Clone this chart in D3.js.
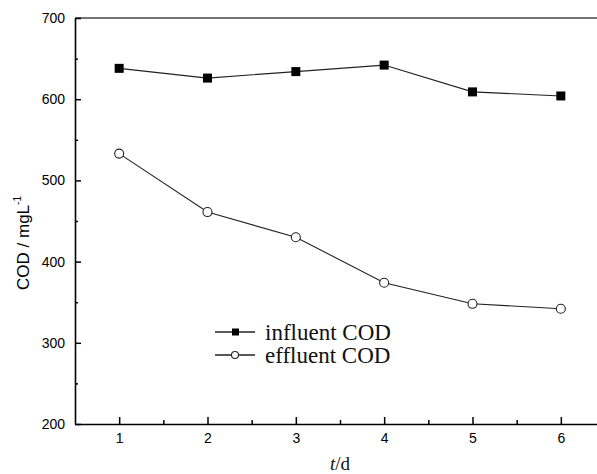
<!DOCTYPE html>
<html>
<head>
<meta charset="utf-8">
<script src="https://cdn.jsdelivr.net/npm/d3@7"></script>
<style>
  body { margin: 0; background: #fff; }
</style>
</head>
<body>
<svg id="svg1" width="597" height="474"></svg>
<script>
// data
var days = [1, 2, 3, 4, 5, 6];
var influent = [638, 626, 634, 642, 609, 604];
var effluent = [533, 461, 430, 374, 348, 342];
var yTicks = [200, 300, 400, 500, 600, 700];
var yMinor = [250, 350, 450, 550, 650];
var xMinor = [1.5, 2.5, 3.5, 4.5, 5.5];

function drawChart() {
  var svg = d3.select("#svg1");
  var left = 75, right = 605, topY = 18, bottom = 424;

  var x = d3.scaleLinear().domain([0.5, 6.5]).range([left, right]);
  var y = d3.scaleLinear().domain([200, 700]).range([bottom, topY]);

  // top frame line (right edge is cut off in the original)
  svg.append("line").attr("x1", left).attr("x2", right).attr("y1", topY).attr("y2", topY)
    .attr("stroke", "#444").attr("stroke-width", 1.5);

  // x axis, ticks pointing inward
  var gx = svg.append("g").attr("transform", "translate(0," + bottom + ")")
    .call(d3.axisBottom(x).tickValues(days).tickFormat(d3.format("d")).tickSize(-7).tickPadding(9).tickSizeOuter(0));
  gx.select(".domain").attr("stroke", "#000").attr("stroke-width", 1.6);
  gx.selectAll(".tick line").attr("stroke-width", 1.5);
  gx.selectAll(".tick text")
    .attr("font-family", "Liberation Sans, Arial, sans-serif").attr("font-size", "14px").attr("fill", "#000");
  svg.append("g").attr("transform", "translate(0," + bottom + ")")
    .call(d3.axisBottom(x).tickValues(xMinor).tickSize(-4).tickFormat("").tickSizeOuter(0))
    .call(function(g) { g.select(".domain").remove(); })
    .selectAll(".tick line").attr("stroke-width", 1.5);

  // y axis
  var gy = svg.append("g").attr("transform", "translate(" + left + ",0)")
    .call(d3.axisLeft(y).tickValues(yTicks).tickFormat(d3.format("d")).tickSize(-6).tickPadding(10).tickSizeOuter(0));
  gy.select(".domain").attr("stroke", "#000").attr("stroke-width", 1.6);
  gy.selectAll(".tick line").attr("stroke-width", 1.5);
  gy.selectAll(".tick text")
    .attr("font-family", "Liberation Sans, Arial, sans-serif").attr("font-size", "14px").attr("fill", "#000");
  svg.append("g").attr("transform", "translate(" + left + ",0)")
    .call(d3.axisLeft(y).tickValues(yMinor).tickSize(-3).tickFormat("").tickSizeOuter(0))
    .call(function(g) { g.select(".domain").remove(); })
    .selectAll(".tick line").attr("stroke-width", 1.5);

  // axis titles
  svg.append("text")
    .attr("transform", "translate(29,243) rotate(-90)")
    .attr("text-anchor", "middle")
    .attr("font-family", "Liberation Sans, Arial, sans-serif")
    .attr("font-size", "17px")
    .attr("fill", "#000")
    .html("COD / mgL<tspan font-size='10px' dy='-8'>-1</tspan>");

  svg.append("text")
    .attr("x", 340).attr("y", 470)
    .attr("text-anchor", "middle")
    .attr("font-family", "Liberation Serif, Times New Roman, serif")
    .attr("font-size", "19px")
    .attr("fill", "#111")
    .html("<tspan font-style='italic'>t</tspan>/d");

  var line = d3.line()
    .x(function(d, i) { return x(days[i]); })
    .y(function(d) { return y(d); });

  svg.append("path").datum(influent).attr("d", line)
    .attr("fill", "none").attr("stroke", "#222").attr("stroke-width", 1.1);
  svg.append("path").datum(effluent).attr("d", line)
    .attr("fill", "none").attr("stroke", "#222").attr("stroke-width", 1.1);

  svg.selectAll(".sq").data(influent).enter().append("rect")
    .attr("class", "sq")
    .attr("x", function(d, i) { return x(days[i]) - 4.5; })
    .attr("y", function(d) { return y(d) - 4.5; })
    .attr("width", 9).attr("height", 9)
    .attr("fill", "#000");

  svg.selectAll(".dot").data(effluent).enter().append("circle")
    .attr("class", "dot")
    .attr("cx", function(d, i) { return x(days[i]); })
    .attr("cy", function(d) { return y(d); })
    .attr("r", 4.5)
    .attr("fill", "#fff").attr("stroke", "#222").attr("stroke-width", 1.1);

  // legend
  var legend = svg.append("g").attr("transform", "translate(215,332)");
  var serif = "Liberation Serif, Times New Roman, serif";
  legend.append("line").attr("x1", 0).attr("x2", 40).attr("y1", 0).attr("y2", 0)
    .attr("stroke", "#222").attr("stroke-width", 1.4);
  legend.append("rect").attr("x", 17).attr("y", -3.5).attr("width", 7).attr("height", 7).attr("fill", "#000");
  legend.append("text").attr("x", 50).attr("y", 8)
    .attr("font-family", serif).attr("font-size", "23px").attr("fill", "#111")
    .text("influent COD");
  legend.append("line").attr("x1", 0).attr("x2", 40).attr("y1", 23).attr("y2", 23)
    .attr("stroke", "#222").attr("stroke-width", 1.4);
  legend.append("circle").attr("cx", 20).attr("cy", 23).attr("r", 3.5)
    .attr("fill", "#fff").attr("stroke", "#222").attr("stroke-width", 1.1);
  legend.append("text").attr("x", 50).attr("y", 31)
    .attr("font-family", serif).attr("font-size", "23px").attr("fill", "#111")
    .text("effluent COD");
}

drawChart();
</script>
</body>
</html>
